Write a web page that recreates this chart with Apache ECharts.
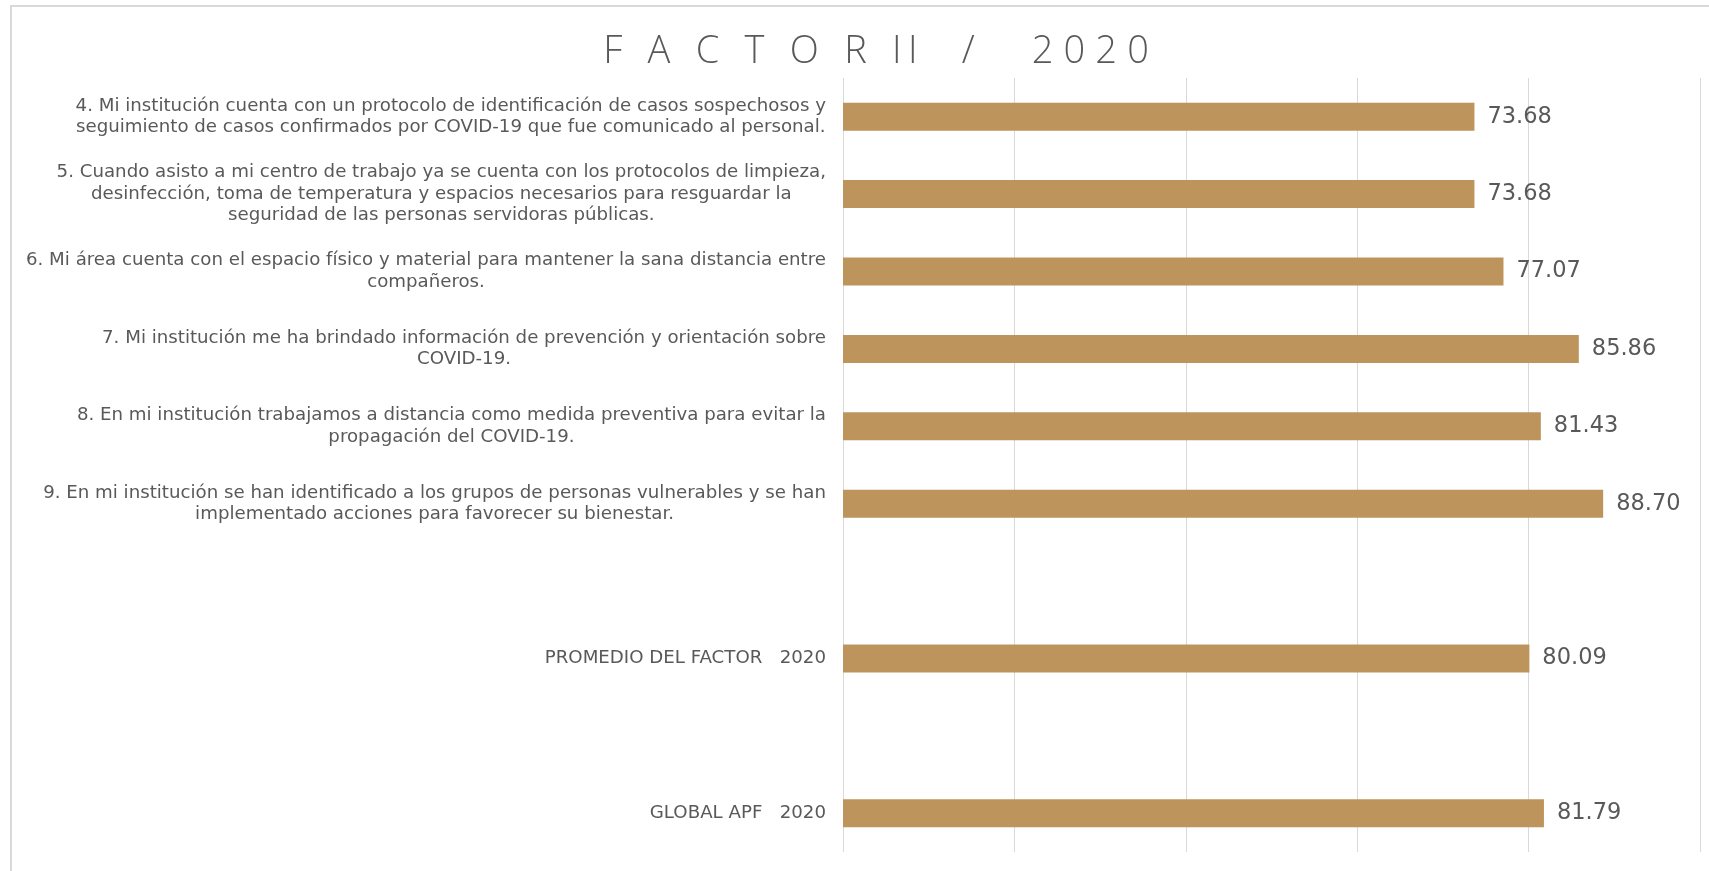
<!DOCTYPE html>
<html>
<head>
<meta charset="utf-8">
<script src="https://cdn.jsdelivr.net/npm/echarts@6/dist/echarts.min.js"></script>
<style>
html,body{margin:0;padding:0;background:#fff;}
#chart{width:1709px;height:871px;}
</style>
</head>
<body>
<div id="chart"></div>
<script>
const titleText = 'F\u2002\u2009A\u2002\u2009C\u2002\u2009T\u2002\u2009O\u2002\u2009R\u2002\u2009I\u2009I\u2002\u2002\u2009/\u2002\u2002\u20022\u2009\u200A0\u2009\u200A2\u2009\u200A0';

const categories = [
  '4. Mi institución cuenta con un protocolo de identificación de casos sospechosos y\nseguimiento de casos confirmados por COVID-19 que fue comunicado al personal.',
  '5. Cuando asisto a mi centro de trabajo ya se cuenta con los protocolos de limpieza,\ndesinfección, toma de temperatura y espacios necesarios para resguardar la\nseguridad de las personas servidoras públicas.',
  '6. Mi área cuenta con el espacio físico y material para mantener la sana distancia entre\ncompañeros.',
  '7. Mi institución me ha brindado información de prevención y orientación sobre\nCOVID-19.',
  '8. En mi institución trabajamos a distancia como medida preventiva para evitar la\npropagación del COVID-19.',
  '9. En mi institución se han identificado a los grupos de personas vulnerables y se han\nimplementado acciones para favorecer su bienestar.',
  ' ',
  'PROMEDIO DEL FACTOR   2020',
  '  ',
  'GLOBAL APF   2020'
];

const values = [73.68, 73.68, 77.07, 85.86, 81.43, 88.70, null, 80.09, null, 81.79];

const xTicks = [0, 20, 40, 60, 80, 100];

const chart = echarts.init(document.getElementById('chart'));
const textColor = '#595959';
const titleFont = '"Open Sans", "Noto Sans", sans-serif';
const font = '"DejaVu Sans", "Open Sans", sans-serif';

chart.setOption({
  backgroundColor: '#ffffff',
  animation: false,
  title: {
    text: titleText,
    left: 871,
    textAlign: 'center',
    top: 28,
    textStyle: {
      fontFamily: titleFont,
      fontSize: 38,
      fontWeight: 300,
      color: textColor
    }
  },
  graphic: [{
    type: 'rect',
    shape: {x: 11, y: 6, width: 1720, height: 900},
    style: {fill: 'none', stroke: '#d9d9d9', lineWidth: 2},
    silent: true
  }],
  grid: {
    left: 843,
    right: 9,
    top: 78,
    bottom: 19,
    containLabel: false
  },
  xAxis: {
    type: 'value',
    min: xTicks[0],
    max: xTicks[xTicks.length - 1],
    interval: xTicks[1] - xTicks[0],
    axisLabel: {show: false},
    axisLine: {show: false},
    axisTick: {show: false},
    splitLine: {show: true, lineStyle: {color: '#d9d9d9', width: 1}}
  },
  yAxis: {
    type: 'category',
    inverse: true,
    data: categories,
    axisLine: {show: false},
    axisTick: {show: false},
    axisLabel: {
      margin: 17,
      interval: 0,
      formatter: function (v) { return '{a|' + v.split('\n').join('}\n{a|') + '}'; },
      rich: {
        a: {
          align: 'center',
          fontFamily: font,
          fontSize: 18.2,
          lineHeight: 21.5,
          color: textColor
        }
      }
    }
  },
  series: [{
    type: 'bar',
    data: values,
    barWidth: 28,
    itemStyle: {color: '#BD955C'},
    label: {
      show: true,
      position: 'right',
      distance: 13,
      formatter: function (p) { return p.value == null ? '' : p.value.toFixed(2); },
      fontFamily: font,
      fontSize: 22.5,
      color: '#595959'
    }
  }]
});
</script>
</body>
</html>
